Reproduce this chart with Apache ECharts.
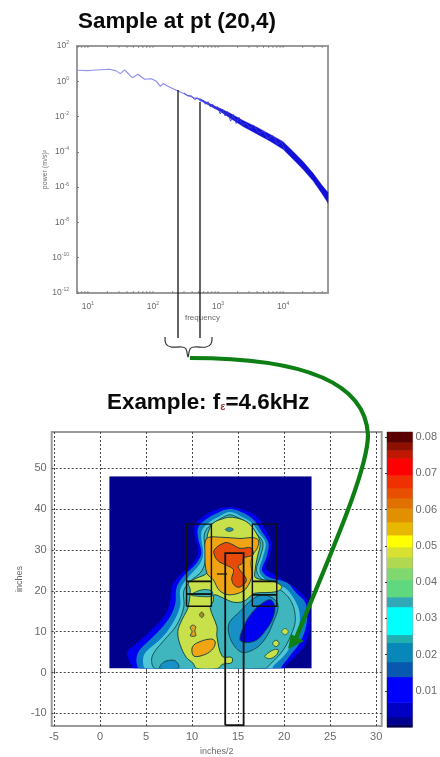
<!DOCTYPE html>
<html>
<head>
<meta charset="utf-8">
<style>
html,body{margin:0;padding:0;background:#fff;width:440px;height:757px;overflow:hidden}
#chart{width:440px;height:757px;filter:blur(0.75px)}
</style>
<script src="https://cdn.jsdelivr.net/npm/echarts@6/dist/echarts.min.js"></script>
</head>
<body>
<div id="chart"></div>
<script>
// ---- spectrum (frequency, power) ----
var specFreq = [6.8,10,13.4,21.5,27.3,31.4,36.6,42.7,48,58.7,74.4,94,113,130,143,170,203,243,326,412,522,661,837,1060,1510,2430,3890,6240,10000,14250,20300,29000,38900,49000];
var specPower = [4.2,4.0,4.4,4.8,3.9,2.7,4.4,2.5,1.6,2.5,1.3,1.4,1.0,0.52,0.74,0.52,0.38,0.28,0.175,0.119,0.095,0.059,0.038,0.0247,0.0117,0.004,0.00166,0.00064,0.00023,6.3e-5,1.7e-5,3.7e-6,8.1e-7,2.5e-7];
var bandFreq = [522,661,837,1060,1510,2430,3890,6240,10000,14250,20300,29000,38900,49000];
var bandUpper = [0.105,0.066,0.044,0.030,0.016,0.0059,0.0026,0.00101,0.00038,0.000105,2.8e-5,6.1e-6,1.4e-6,5e-7];
var bandLower = [0.086,0.053,0.033,0.0206,0.0085,0.0027,0.00107,0.00041,0.000139,3.8e-5,1.0e-5,2.2e-6,4.7e-7,1.25e-7];
var noiseFreq = [300,340,390,440,480,540,590,640,700,760,820,900,980,1080,1180,1280,1400,1560,1720,1900,2100,2400,2700,3100,3500,4200,5000,5800,7000,8200,9400,10600];
var noisePower = [0.22,0.15,0.15,0.09,0.12,0.075,0.085,0.05,0.07,0.036,0.052,0.027,0.036,0.014,0.026,0.011,0.019,0.0055,0.013,0.0041,0.0092,0.0033,0.0042,0.0022,0.0033,0.0012,0.0015,0.00056,0.00082,0.00026,0.0004,0.00012];
var xMinorTicks = [7,8,9,10,20,30,40,50,60,70,80,90,100,200,300,400,500,600,700,800,900,1000,2000,3000,4000,5000,6000,7000,8000,9000,10000,20000,30000,40000];

// ---- contour map, boundaries in (inches/2, inches), one list per filled level ----
var mapBounds = [[1,1],[1,48],[23,48],[23,1]];
var levelBlue = [[3.7,1],[3.3,2.2],[3.04,3.66],[2.93,5.1],[3.8,6.8],[5.4,10],[7.07,14.1],[7.6,17.1],[7.8,21],[8.7,23.9],[10.1,26.8],[10.65,29.3],[10.3,33.2],[10.3,36.1],[11.1,38],[12.5,39.8],[14.1,40.5],[16,39.5],[17.2,37.8],[18,34.9],[18.6,31.7],[18.4,28.3],[18,25.6],[19,23.9],[19.8,22.7],[21.5,20.2],[22.6,17.3],[22.8,14],[22.8,12.2],[22.6,8.8],[22.1,6.1],[21.2,3.9],[20.1,1.5],[19.9,1]];
var levelMid = [[4.35,1],[3.95,3.2],[4.35,5.6],[5.8,8.8],[7.4,12.9],[8.15,16.6],[8.3,20.7],[9,23.4],[10.5,26.8],[11,29.3],[10.65,32.9],[10.65,35.4],[11.4,37.3],[12.7,39],[14.1,40],[15.8,38.8],[16.8,37.1],[17.6,34.4],[18.3,31.7],[18.1,28.3],[17.6,25.1],[18.3,23.4],[20.3,22],[21.3,19.5],[22.3,17.1],[22.5,13.7],[22.3,10.5],[21.7,7.3],[20.8,4.6],[19.8,1.7],[19.6,1]];
var levelLight = [[5,1],[4.67,3.2],[5,5.1],[6.5,8],[7.8,11.7],[8.7,16.3],[8.7,20.2],[9.35,22.7],[10.9,26.8],[11.2,29.3],[11,32.9],[11.1,34.9],[11.75,36.6],[12.8,38],[14.1,39.3],[15.5,38],[16.5,36.6],[17.3,34.1],[18,31.7],[17.7,28.3],[17.3,24.9],[17.9,22.9],[20.1,20.7],[21,18.3],[21.6,15.4],[21.7,12.4],[21.4,9.8],[20.8,6.8],[20.1,4.4],[18.8,1.5],[18.7,1]];
var levelTeal = [[6,1],[5.6,3],[5.9,5],[7,8],[8.3,11.5],[9.1,16],[9.1,20],[9.8,22.3],[11.1,25],[11.5,29],[11.3,33],[11.5,34.8],[12.1,36.2],[13.2,37.8],[14.1,38.6],[15.1,37.8],[16,36.6],[17,34],[17.7,31.7],[17.4,28.3],[17,25],[17.6,22.8],[19.6,20.2],[20.6,18],[21.1,15.4],[21.2,12.4],[20.9,10],[20.3,7],[19.6,4.6],[18.3,1.6],[18,1]];
var levelYellow = [[11.75,29.3],[11.6,32.4],[11.85,34.9],[12.3,36.6],[13.3,37.6],[14.1,38],[15.2,37.6],[16.1,36.6],[16.85,34.6],[17.4,31.7],[17.1,28.3],[16.85,25.1],[16.9,23.2],[18.8,22.3],[19.75,21],[19.2,19.8],[16.8,19.4],[16.3,18.6],[15.6,17.4],[14.5,17.2],[13.4,18.2],[12.4,19],[12.3,17.4],[11.96,15.9],[12.7,11.2],[12.7,8.8],[13.3,3.9],[14.3,3.7],[14.3,2.4],[13.3,2],[12.8,1],[10.5,1],[10.07,2.36],[9.4,3.6],[8.7,6.8],[8.45,10],[8.9,12.9],[9.4,15],[9.6,16.2],[9.8,20.2],[9.6,21.9],[10.5,23.1],[11.6,24.3],[11.8,26.5]];
var levelOrange = [[11.6,32.8],[13.2,33.1],[15.2,32.8],[16.6,33],[17.2,32.4],[17.1,30.5],[16.6,28.8],[16.4,26.8],[16.5,24],[16.3,22.2],[15.6,20],[14.1,19],[13,20],[12.3,22.7],[11.6,24.3],[11.4,29.2]];
var levelRed = [[12.4,30],[13.6,31.8],[14.3,31.4],[15.2,30.4],[16.4,30.5],[16.6,28.8],[15.6,28],[15.5,26.8],[15,25.9],[15.9,22.7],[15.2,20.9],[14.6,21.3],[14.3,22.9],[14.5,25.1],[13.7,26.3],[13,27],[12.5,28.3]];
var holeMid = [[13.95,10],[14.1,12.4],[15.2,14.9],[16.5,17.8],[17.7,19],[19,17.8],[19.35,15.9],[18.8,12.2],[18.1,8.8],[17.05,6.1],[15.5,4.9],[14.5,6.8]];
var holeBlue = [[15.2,8],[15.8,12.2],[16.5,14.6],[17.4,16.6],[18.5,17.8],[19,16.1],[18.7,12.9],[17.9,10],[17.05,8],[16,7.3]];
var patchBottom = [[6.5,1],[6.9,2.5],[8,3],[8.5,2],[8.5,1]];
var patchCrown = [[13.6,35],[14.06,35.5],[14.5,35],[14.06,34.5]];
var patchRectLeft = [[9.9,19],[11,20.2],[12.1,20],[12.2,18.7],[10.4,18.7]];
var patchDotA = [[10.8,14.1],[11.05,14.8],[11.3,14.1],[11.05,13.4]];
var patchFig8 = [[9.8,9],[10.4,9],[10.3,10.2],[10.4,11.2],[10.05,11.6],[9.8,11],[10,10]];
var patchBlob = [[10,6],[10.5,7.2],[12,8.2],[12.5,7.6],[12.3,5.9],[11.4,4.4],[10.2,4]];
var isleA = [[17.9,3.9],[18.7,5.4],[19.35,5.6],[19.2,4.4],[18.5,3.4]];
var isleB = [[18.75,7.1],[19.1,7.9],[19.45,7.1],[19.1,6.3]];
var isleC = [[19.75,10],[20.1,10.8],[20.45,10],[20.1,9.2]];

// ---- structure outline overlays ----
var leftBox = [[9.4,16.2],[9.4,36.3],[12.1,36.3],[12.1,16.2],[9.4,16.2]];
var leftBarTop = [[9.4,22.3],[12.1,22.3]];
var leftBarLow = [[9.4,19.2],[12.1,19.2]];
var rightBox = [[16.55,16.2],[16.55,36.3],[19.2,36.3],[19.2,16.2],[16.55,16.2]];
var rightBarTop = [[16.55,22.3],[19.2,22.3]];
var rightBarLow = [[16.55,19],[19.2,19]];
var centerBox = [[13.6,-12.9],[13.6,29.2],[15.6,29.2],[15.6,-12.9],[13.6,-12.9]];
var centerMark = [[12.7,24.1],[13.8,24.1]];

// ---- colour bar ----
var barEdges = [0,0.0007,0.0029,0.0068,0.0139,0.018,0.0233,0.0255,0.0332,0.0359,0.0406,0.0439,0.0469,0.0497,0.053,0.0566,0.0604,0.0632,0.066,0.0695,0.0742,0.0764,0.0786,0.0814];
var barColors = ['#000050','#000090','#0000c4','#0000ff','#0858b0','#0888b8','#20b0b0','#00ffff','#30a8b8','#60d880','#80d870','#b0d850','#d8e030','#ffff00','#e8b800','#e09000','#e07000','#e85000','#f03000','#ff0000','#c01800','#901000','#5a0000'];
var mapXTicks = [-5,0,5,10,15,20,25,30];
var mapYTicks = [-10,0,10,20,30,40,50];
var barTicks = [0.01,0.02,0.03,0.04,0.05,0.06,0.07,0.08];

var GREY = '#6a6a6a', FRAME = '#9a9a9a';

var fills = [
 {pts:mapBounds,color:'#00008c',line:0},
 {pts:levelBlue,color:'#0000ee',line:0},
 {pts:levelMid,color:'#0c7cc4',line:0},
 {pts:levelLight,color:'#4ec8d6',line:0},
 {pts:levelTeal,color:'#3fb6be',line:0.8},
 {pts:patchBottom,color:'#1890c8',line:0.8},
 {pts:holeMid,color:'#1890c6',line:0.8},
 {pts:holeBlue,color:'#0000f0',line:0.8},
 {pts:levelYellow,color:'#c8e04a',line:0.9},
 {pts:patchRectLeft,color:'#3fb6be',line:0.8},
 {pts:patchCrown,color:'#2a90a8',line:0.6},
 {pts:patchDotA,color:'#a08830',line:0.6},
 {pts:patchFig8,color:'#e0a020',line:0.8},
 {pts:patchBlob,color:'#f0a414',line:0.9},
 {pts:isleA,color:'#c8e04a',line:0.8},
 {pts:isleB,color:'#c8e04a',line:0.8},
 {pts:isleC,color:'#c8e04a',line:0.6},
 {pts:levelOrange,color:'#f0a414',line:0.9},
 {pts:levelRed,color:'#e84a0a',line:0.9}
];
var outlines = [
 {pts:leftBox,w:1.4},{pts:leftBarTop,w:1.8},{pts:leftBarLow,w:1.8},
 {pts:rightBox,w:1.4},{pts:rightBarTop,w:1.8},{pts:rightBarLow,w:1.8},
 {pts:centerBox,w:1.8},{pts:centerMark,w:1.2}
];

function indices(n){var a=[];for(var i=0;i<n;i++)a.push(i);return a;}
function zip(a,b){return a.map(function(v,i){return [v,b[i]];});}
function supLabel(v){
  var e=Math.round(Math.log(v)/Math.LN10);
  return '{b|10}{s|'+e+'}';
}
var supRich={b:{fontSize:8.5,color:GREY,fontFamily:'Liberation Sans'},s:{fontSize:5,color:GREY,fontFamily:'Liberation Sans',padding:[0,0,6,0]}};

var option={
 animation:false,
 backgroundColor:'#ffffff',
 title:[
  {text:'Sample at pt (20,4)',left:73,top:6,textStyle:{fontFamily:'Liberation Sans',fontWeight:'bold',fontSize:22.4,color:'#0a0a0a'}},
  {text:'{a|Example: f}{e|\u03b5}{a|=4.6kHz}',left:102,top:387,textStyle:{rich:{
     a:{fontFamily:'Liberation Sans',fontWeight:'bold',fontSize:22.4,color:'#0a0a0a'},
     e:{fontFamily:'Liberation Sans',fontWeight:'bold',fontSize:11,color:'#a03838',padding:[8,0,0,0]}}}}
 ],
 grid:[
  {left:77,top:46,width:251,height:247,show:true,borderColor:FRAME,borderWidth:2,backgroundColor:'#fff'},
  {left:51.7,top:432,width:330,height:295,show:true,borderColor:FRAME,borderWidth:2,backgroundColor:'#fff'},
  {left:387,top:432,width:28,height:295,show:true,borderColor:'#777',borderWidth:0.8}
 ],
 xAxis:[
  {gridIndex:0,type:'log',logBase:10,min:6.8,max:49000,name:'frequency',nameLocation:'middle',nameGap:21,nameMoveOverlap:false,
   nameTextStyle:{fontSize:8,color:GREY,fontFamily:'Liberation Sans'},
   axisLine:{show:false},splitLine:{show:false},
   axisTick:{show:false},
   axisLabel:{margin:8,rich:supRich,formatter:function(v){var l=Math.log(v)/Math.LN10;return Math.abs(l-Math.round(l))<1e-6?supLabel(v):'';}}},
  {gridIndex:1,type:'value',min:-5.25,max:30.6,name:'inches/2',nameLocation:'middle',nameGap:21,nameMoveOverlap:false,
   nameTextStyle:{fontSize:9,color:GREY,fontFamily:'Liberation Sans'},
   axisLine:{show:false},
   axisTick:{show:true,inside:true,length:3,lineStyle:{color:'#555'},customValues:mapXTicks},
   axisLabel:{margin:5,fontSize:11,color:GREY,fontFamily:'Liberation Sans',customValues:mapXTicks,formatter:function(v){return String(v);}},
   splitLine:{show:true,lineStyle:{color:'#444',type:[2,2],width:1}}},
  {gridIndex:2,type:'value',min:0,max:1,show:false}
 ],
 yAxis:[
  {gridIndex:0,type:'log',logBase:10,min:1e-12,max:100,interval:2,name:'power (m/s)\u00b2',nameLocation:'middle',nameGap:28,nameMoveOverlap:false,
   nameTextStyle:{fontSize:7,color:GREY,fontFamily:'Liberation Sans'},
   axisLine:{show:false},splitLine:{show:false},
   axisTick:{show:true,inside:true,length:2,lineStyle:{color:'#777'}},
   axisLabel:{margin:8,rich:supRich,formatter:supLabel}},
  {gridIndex:1,type:'value',min:-13.1,max:58.86,name:'inches',nameLocation:'middle',nameGap:28,nameMoveOverlap:false,
   nameTextStyle:{fontSize:9,color:GREY,fontFamily:'Liberation Sans'},
   axisLine:{show:false},
   axisTick:{show:true,inside:true,length:3,lineStyle:{color:'#555'},customValues:mapYTicks},
   axisLabel:{margin:5,fontSize:11,color:GREY,fontFamily:'Liberation Sans',customValues:mapYTicks,formatter:function(v){return String(v);}},
   splitLine:{show:true,lineStyle:{color:'#444',type:[2,2],width:1}}},
  {gridIndex:2,type:'value',position:'right',min:0,max:0.0814,
   axisLine:{show:false},splitLine:{show:false},
   axisTick:{show:true,inside:true,length:2,lineStyle:{color:'#333'},customValues:barTicks},
   axisLabel:{margin:3,fontSize:11,color:GREY,fontFamily:'Liberation Sans',customValues:barTicks,formatter:function(v){return v.toFixed(2);}}}
 ],
 series:[
  {type:'custom',xAxisIndex:0,yAxisIndex:0,silent:true,data:xMinorTicks,clip:false,z:3,
   renderItem:function(p,api){
     var v=xMinorTicks[p.dataIndex];
     var b=api.coord([v,1e-12]),t=api.coord([v,100]);
     var s={stroke:'#777',lineWidth:0.8};
     return {type:'group',children:[
       {type:'line',shape:{x1:b[0],y1:b[1],x2:b[0],y2:b[1]-2},style:s},
       {type:'line',shape:{x1:t[0],y1:t[1],x2:t[0],y2:t[1]+2},style:s}]};
   }},
  {type:'line',xAxisIndex:0,yAxisIndex:0,data:zip(specFreq,specPower),showSymbol:false,silent:true,z:4,
   lineStyle:{width:1.1,color:{type:'linear',x:0,y:0,x2:1,y2:0,colorStops:[{offset:0,color:'#9a9af0'},{offset:0.45,color:'#8080ea'},{offset:0.55,color:'#3434dc'},{offset:0.7,color:'#1010d8'},{offset:1,color:'#1010d8'}]}}},
  {type:'line',xAxisIndex:0,yAxisIndex:0,data:zip(noiseFreq,noisePower),showSymbol:false,silent:true,z:4,
   lineStyle:{width:0.9,color:'#3838dc'}},
  {type:'custom',xAxisIndex:0,yAxisIndex:0,silent:true,data:[0],z:4,
   renderItem:function(p,api){
     var pts=[],i;
     for(i=0;i<bandFreq.length;i++)pts.push(api.coord([bandFreq[i],bandUpper[i]]));
     for(i=bandFreq.length-1;i>=0;i--)pts.push(api.coord([bandFreq[i],bandLower[i]]));
     return {type:'polygon',shape:{points:pts},style:{fill:'#1010d8',stroke:'#1010d8',lineWidth:0.4}};
   }},
  {type:'custom',xAxisIndex:1,yAxisIndex:1,silent:true,data:indices(fills.length),z:5,
   renderItem:function(p,api){
     var f=fills[p.dataIndex];
     var pts=f.pts.map(function(q){return api.coord(q);});
     var a=api.coord([1,48]),b=api.coord([23,1]);
     var isBounds=p.dataIndex===0;
     return {type:'polygon',
       clipPath:{type:'rect',shape:{x:a[0],y:a[1],width:b[0]-a[0],height:b[1]-a[1]}},
       shape:{points:pts,smooth:isBounds?0:0.35},
       style:{fill:f.color,stroke:f.line?'#0c3a3a':null,lineWidth:f.line||0}};
   }},
  {type:'custom',xAxisIndex:1,yAxisIndex:1,silent:true,data:indices(outlines.length),z:6,clip:false,
   renderItem:function(p,api){
     var o=outlines[p.dataIndex];
     return {type:'polyline',shape:{points:o.pts.map(function(q){return api.coord(q);})},style:{fill:null,stroke:'#111',lineWidth:o.w}};
   }},
  {type:'custom',xAxisIndex:2,yAxisIndex:2,silent:true,data:indices(barColors.length),z:3,
   renderItem:function(p,api){
     var i=p.dataIndex;
     var a=api.coord([0,barEdges[i+1]]),b=api.coord([1,barEdges[i]]);
     return {type:'rect',shape:{x:a[0],y:a[1],width:b[0]-a[0],height:b[1]-a[1]+0.5},style:{fill:barColors[i]}};
   }}
 ],
 graphic:[
  {type:'line',z:50,shape:{x1:178,y1:90,x2:178,y2:338},style:{stroke:'#111',lineWidth:1.3}},
  {type:'line',z:50,shape:{x1:200,y1:102,x2:200,y2:338},style:{stroke:'#111',lineWidth:1.3}},
  {type:'polyline',z:50,shape:{smooth:0.4,points:[[165,337],[166,344],[171,347],[182,347],[186,349],[188,357],[190,349],[194,347],[206,347],[211,344],[212,337]]},style:{fill:null,stroke:'#333',lineWidth:1.2}},
  {type:'bezierCurve',z:51,shape:{x1:190,y1:358,cpx1:270,cpy1:358,cpx2:365,cpy2:370,x2:368,y2:435},style:{fill:null,stroke:'#0e7f14',lineWidth:4.2}},
  {type:'bezierCurve',z:51,shape:{x1:368,y1:435,cpx1:368,cpy1:470,cpx2:330,cpy2:555,x2:296,y2:638},style:{fill:null,stroke:'#0e7f14',lineWidth:4.2}},
  {type:'polygon',z:51,shape:{points:[[288,649],[304,641],[291,634]]},style:{fill:'#0e7f14'}}
 ]
};
var chart=echarts.init(document.getElementById('chart'),null,{renderer:'canvas'});
chart.setOption(option);
</script>
</body>
</html>
